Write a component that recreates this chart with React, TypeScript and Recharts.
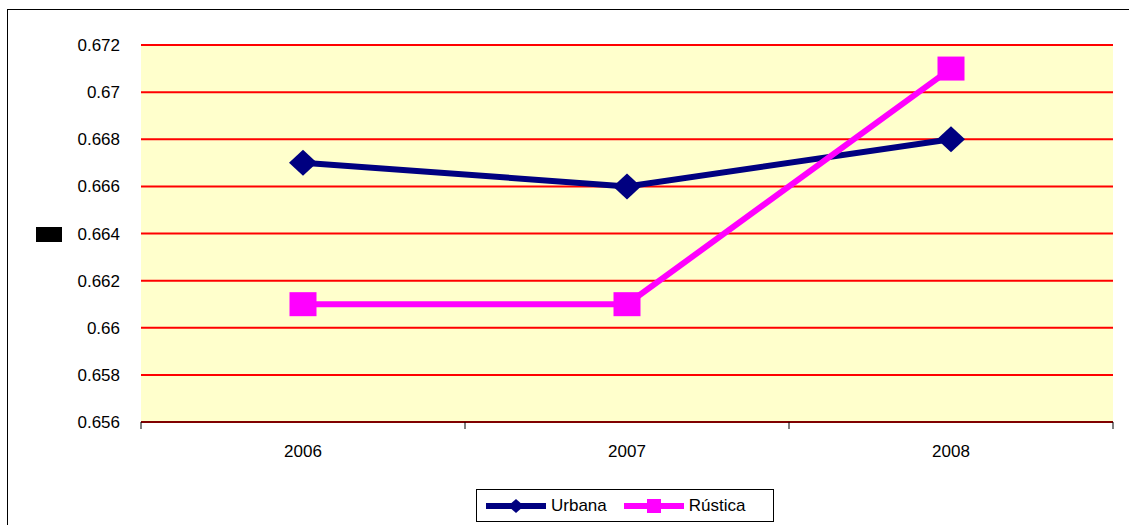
import { CartesianGrid, Line, LineChart, XAxis, YAxis } from "recharts"

// Values
const years = ["2006", "2007", "2008"]
const urbana = [0.667, 0.666, 0.668]
const rustica = [0.661, 0.661, 0.671]
const yTicks = [0.656, 0.658, 0.66, 0.662, 0.664, 0.666, 0.668, 0.67, 0.672]

const seriesInfo = [
  { key: "urbana", name: "Urbana", color: "#000080", marker: "diamond" },
  { key: "rustica", name: "Rústica", color: "#FF00FF", marker: "square" },
]

const data = years.map((year, i) => ({ year, urbana: urbana[i], rustica: rustica[i] }))

const FONT = "'Liberation Sans', Arial, sans-serif"
const BAND = 324

const Diamond = (props: any) => {
  const { cx, cy, fill } = props
  if (cx == null || cy == null) return null
  return <polygon points={`${cx - 14},${cy} ${cx},${cy - 13} ${cx + 14},${cy} ${cx},${cy + 13}`} fill={fill} />
}

const Square = (props: any) => {
  const { cx, cy, fill } = props
  if (cx == null || cy == null) return null
  return <rect x={cx - 13.5} y={cy - 12} width={27} height={24} fill={fill} />
}

const YearTick = (props: any) => {
  const { x, y, payload, index } = props
  const last = index === years.length - 1
  return (
    <g>
      <line x1={x - BAND / 2} x2={x - BAND / 2} y1={y} y2={y + 7} stroke="#000" />
      {last && <line x1={x + BAND / 2} x2={x + BAND / 2} y1={y} y2={y + 7} stroke="#000" />}
      <text x={x} y={y + 29} dy="0.35em" textAnchor="middle" fontSize={17} fontFamily={FONT} fill="#000">
        {payload.value}
      </text>
    </g>
  )
}

const fmt = (v: number) => String(Number(v.toFixed(3)))

export default function App() {
  return (
    <div style={{ position: "fixed", left: 0, top: 0, width: 1129, height: 525, overflow: "hidden", background: "#fff", fontFamily: FONT }}>
      <div style={{ position: "absolute", left: 7, top: 9, width: 1200, height: 600, borderLeft: "1px solid #000", borderTop: "1px solid #000" }} />
      <div style={{ position: "absolute", left: 36, top: 227, width: 26, height: 15, background: "#000" }} />
      <LineChart
        width={1129}
        height={525}
        data={data}
        margin={{ top: 45, right: 16, bottom: 73, left: 0 }}
        style={{ position: "absolute", left: 0, top: 0 }}
      >
        <CartesianGrid vertical={false} stroke="#FF0000" strokeWidth={2} fill="#FFFFCC" fillOpacity={1} />
        <XAxis
          dataKey="year"
          scale="band"
          interval={0}
          height={30}
          tickSize={0}
          tickMargin={0}
          tickLine={false}
          axisLine={{ stroke: "#000", strokeWidth: 1 }}
          tick={<YearTick />}
        />
        <YAxis
          type="number"
          domain={[0.656, 0.672]}
          ticks={yTicks}
          interval={0}
          width={141}
          tickSize={0}
          tickMargin={21}
          axisLine={false}
          tickLine={false}
          tickFormatter={fmt}
          tick={{ fontSize: 17, fontFamily: FONT, fill: "#000" }}
        />
        {seriesInfo.map((s) => (
          <Line
            key={s.key}
            type="linear"
            dataKey={s.key}
            name={s.name}
            stroke={s.color}
            strokeWidth={6}
            fill={s.color}
            dot={s.marker === "diamond" ? <Diamond fill={s.color} /> : <Square fill={s.color} />}
            activeDot={false}
            isAnimationActive={false}
          />
        ))}
      </LineChart>
      <div
        style={{
          position: "absolute",
          left: 476,
          top: 489,
          width: 298,
          height: 33,
          boxSizing: "border-box",
          border: "1px solid #000",
          background: "#fff",
          display: "flex",
          alignItems: "center",
          paddingLeft: 9,
          fontSize: 17,
          color: "#000",
        }}
      >
        {seriesInfo.map((s, i) => (
          <div key={s.key} style={{ display: "flex", alignItems: "center", marginLeft: i === 0 ? 0 : 17 }}>
            <svg width={60} height={16} style={{ marginRight: 5 }}>
              <line x1={0} x2={60} y1={8} y2={8} stroke={s.color} strokeWidth={6} />
              {s.marker === "diamond" ? (
                <polygon points="22,8 30,1 38,8 30,15" fill={s.color} />
              ) : (
                <rect x={23} y={1} width={14} height={14} fill={s.color} />
              )}
            </svg>
            <span>{s.name}</span>
          </div>
        ))}
      </div>
    </div>
  )
}
